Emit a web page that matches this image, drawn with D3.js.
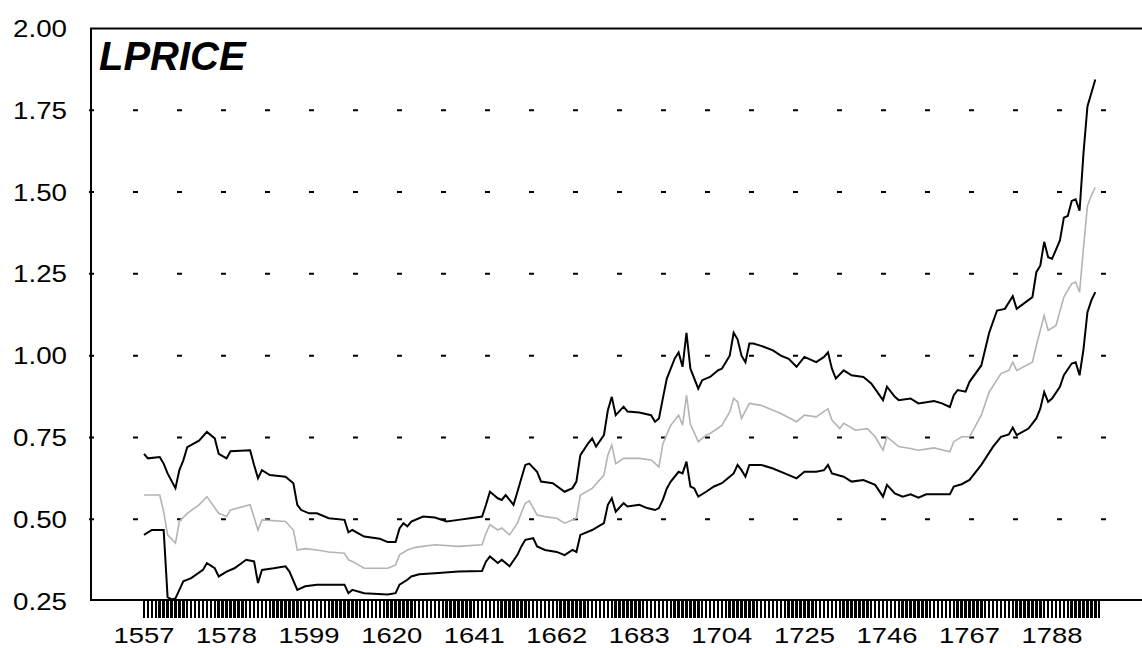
<!DOCTYPE html>
<html>
<head>
<meta charset="utf-8">
<script src="https://cdn.jsdelivr.net/npm/d3@7"></script>
<style>
  html, body { margin: 0; padding: 0; background: #fff; overflow: hidden; }
  text { font-family: "Liberation Sans", Arial, sans-serif; fill: #000; }
</style>
</head>
<body>
<div id="chart"></div>
<script>
// series: [year, value]
let upperBand = [
    [1557, 0.70], [1558, 0.686], [1561, 0.69], [1562, 0.67], [1563, 0.64], [1565, 0.595],
    [1566, 0.65], [1567, 0.68], [1568, 0.72], [1571, 0.74], [1573, 0.767], [1575, 0.747],
    [1576, 0.70], [1578, 0.686], [1579, 0.708], [1584, 0.711], [1585, 0.666], [1586, 0.625],
    [1587, 0.65], [1589, 0.635], [1593, 0.63], [1595, 0.61], [1596, 0.544], [1597, 0.528],
    [1599, 0.518], [1601, 0.518], [1604, 0.503], [1608, 0.498], [1609, 0.46], [1610, 0.467],
    [1613, 0.447], [1617, 0.44], [1619, 0.43], [1621, 0.43], [1622, 0.472], [1623, 0.488],
    [1624, 0.478], [1625, 0.493], [1628, 0.508], [1631, 0.505], [1634, 0.493], [1637, 0.498],
    [1640, 0.503], [1643, 0.508], [1644, 0.544], [1645, 0.584], [1647, 0.564], [1648, 0.559],
    [1649, 0.574], [1651, 0.544], [1652, 0.584], [1653, 0.625], [1654, 0.666], [1655, 0.67],
    [1657, 0.645], [1658, 0.615], [1661, 0.61], [1664, 0.584], [1666, 0.595], [1667, 0.615],
    [1668, 0.696], [1670, 0.732], [1671, 0.747], [1672, 0.722], [1674, 0.757], [1675, 0.833],
    [1676, 0.874], [1677, 0.818], [1679, 0.844], [1680, 0.829], [1683, 0.826], [1686, 0.818],
    [1687, 0.798], [1688, 0.808], [1689, 0.87], [1690, 0.93], [1692, 0.991], [1693, 1.01],
    [1694, 0.966], [1695, 1.07], [1696, 0.96], [1698, 0.899], [1699, 0.925], [1701, 0.935],
    [1703, 0.955], [1704, 0.96], [1706, 1.0], [1707, 1.07], [1708, 1.05], [1709, 1.0],
    [1710, 0.98], [1711, 1.037], [1712, 1.037], [1714, 1.03], [1717, 1.016], [1719, 1.0],
    [1721, 0.99], [1723, 0.966], [1725, 0.996], [1728, 0.98], [1730, 0.996], [1731, 1.01],
    [1732, 0.96], [1733, 0.93], [1735, 0.955], [1737, 0.94], [1740, 0.935], [1742, 0.915],
    [1745, 0.864], [1746, 0.905], [1748, 0.874], [1749, 0.864], [1752, 0.869], [1754, 0.854],
    [1758, 0.861], [1760, 0.854], [1762, 0.843], [1763, 0.879], [1764, 0.895], [1766, 0.89],
    [1767, 0.92], [1770, 0.97], [1772, 1.07], [1774, 1.138], [1776, 1.143], [1778, 1.182],
    [1779, 1.143], [1783, 1.179], [1784, 1.255], [1785, 1.275], [1786, 1.348], [1787, 1.301],
    [1788, 1.296], [1790, 1.352], [1791, 1.422], [1792, 1.427], [1793, 1.473], [1794, 1.478],
    [1795, 1.443], [1796, 1.62], [1797, 1.762], [1798, 1.803], [1799, 1.844]
];

let forecast = [
    [1557, 0.574], [1561, 0.574], [1562, 0.523], [1563, 0.452], [1565, 0.427], [1566, 0.493],
    [1568, 0.518], [1571, 0.544], [1573, 0.569], [1576, 0.518], [1578, 0.508], [1579, 0.528],
    [1584, 0.544], [1586, 0.467], [1587, 0.498], [1593, 0.493], [1595, 0.467], [1596, 0.406],
    [1598, 0.41], [1601, 0.406], [1604, 0.40], [1608, 0.396], [1609, 0.376], [1610, 0.371],
    [1613, 0.35], [1619, 0.35], [1621, 0.36], [1622, 0.391], [1624, 0.406], [1626, 0.414],
    [1631, 0.422], [1637, 0.417], [1643, 0.422], [1644, 0.457], [1645, 0.483], [1647, 0.467],
    [1648, 0.473], [1650, 0.452], [1652, 0.488], [1653, 0.52], [1654, 0.549], [1655, 0.556],
    [1657, 0.513], [1659, 0.508], [1662, 0.503], [1664, 0.488], [1667, 0.503], [1668, 0.574],
    [1671, 0.594], [1674, 0.635], [1675, 0.696], [1676, 0.727], [1677, 0.67], [1679, 0.686],
    [1683, 0.686], [1686, 0.681], [1688, 0.66], [1689, 0.73], [1690, 0.76], [1691, 0.787],
    [1693, 0.818], [1694, 0.787], [1695, 0.879], [1696, 0.79], [1698, 0.737], [1700, 0.757],
    [1701, 0.762], [1704, 0.787], [1706, 0.828], [1707, 0.869], [1708, 0.859], [1709, 0.808],
    [1711, 0.854], [1714, 0.848], [1719, 0.823], [1723, 0.798], [1725, 0.818], [1728, 0.813],
    [1731, 0.838], [1732, 0.803], [1734, 0.777], [1735, 0.793], [1738, 0.772], [1741, 0.777],
    [1743, 0.752], [1745, 0.711], [1746, 0.752], [1748, 0.732], [1749, 0.722], [1752, 0.716],
    [1754, 0.711], [1758, 0.718], [1762, 0.706], [1763, 0.737], [1765, 0.752], [1767, 0.752],
    [1770, 0.818], [1772, 0.889], [1775, 0.945], [1777, 0.955], [1778, 0.98], [1779, 0.955],
    [1783, 0.98], [1784, 1.031], [1786, 1.123], [1787, 1.077], [1789, 1.092], [1791, 1.179],
    [1793, 1.22], [1794, 1.225], [1795, 1.194], [1796, 1.33], [1797, 1.458], [1798, 1.49],
    [1799, 1.514]
];

let lowerBand = [
    [1557, 0.452], [1559, 0.467], [1562, 0.467], [1563, 0.262], [1564, 0.255], [1565, 0.258],
    [1566, 0.284], [1567, 0.31], [1569, 0.32], [1572, 0.345], [1573, 0.366], [1575, 0.35],
    [1576, 0.325], [1578, 0.34], [1580, 0.35], [1583, 0.376], [1585, 0.371], [1586, 0.305],
    [1587, 0.345], [1590, 0.35], [1593, 0.356], [1594, 0.34], [1596, 0.284], [1598, 0.295],
    [1601, 0.30], [1608, 0.30], [1609, 0.274], [1610, 0.284], [1613, 0.274], [1619, 0.27],
    [1621, 0.274], [1622, 0.30], [1624, 0.315], [1625, 0.325], [1627, 0.332], [1631, 0.335],
    [1637, 0.34], [1643, 0.342], [1644, 0.371], [1645, 0.386], [1647, 0.366], [1648, 0.376],
    [1650, 0.356], [1652, 0.391], [1653, 0.417], [1654, 0.437], [1656, 0.442], [1657, 0.417],
    [1659, 0.406], [1662, 0.40], [1664, 0.39], [1666, 0.406], [1667, 0.40], [1668, 0.452],
    [1671, 0.467], [1674, 0.488], [1675, 0.544], [1676, 0.564], [1677, 0.523], [1679, 0.549],
    [1680, 0.539], [1683, 0.544], [1685, 0.534], [1687, 0.528], [1688, 0.534], [1689, 0.56],
    [1690, 0.594], [1691, 0.615], [1693, 0.645], [1694, 0.64], [1695, 0.676], [1696, 0.60],
    [1697, 0.594], [1698, 0.569], [1700, 0.584], [1702, 0.60], [1704, 0.61], [1705, 0.62],
    [1707, 0.64], [1708, 0.666], [1709, 0.65], [1710, 0.63], [1711, 0.666], [1714, 0.666],
    [1717, 0.655], [1720, 0.64], [1723, 0.625], [1725, 0.645], [1728, 0.645], [1730, 0.65],
    [1731, 0.666], [1732, 0.64], [1735, 0.63], [1737, 0.615], [1740, 0.62], [1743, 0.605],
    [1745, 0.569], [1746, 0.605], [1748, 0.579], [1750, 0.569], [1752, 0.576], [1754, 0.566],
    [1756, 0.576], [1762, 0.576], [1763, 0.60], [1765, 0.607], [1767, 0.62], [1770, 0.666],
    [1773, 0.722], [1775, 0.752], [1777, 0.759], [1778, 0.78], [1779, 0.757], [1782, 0.777],
    [1784, 0.808], [1785, 0.838], [1786, 0.889], [1787, 0.859], [1788, 0.869], [1790, 0.905],
    [1791, 0.94], [1793, 0.976], [1794, 0.98], [1795, 0.94], [1796, 1.02], [1797, 1.133],
    [1798, 1.169], [1799, 1.194]
];

let yTickValues = [0.25, 0.50, 0.75, 1.00, 1.25, 1.50, 1.75, 2.00];
let gridValues = [0.50, 0.75, 1.00, 1.25, 1.50, 1.75];
let xLabelYears = [1557, 1578, 1599, 1620, 1641, 1662, 1683, 1704, 1725, 1746, 1767, 1788];
let firstTickYear = 1557, lastTickYear = 1800;
let seriesTitle = 'LPRICE';

let width = 1142,
    height = 648,
    frame = {left: 91, top: 28.5, bottom: 600, right: 1150};

let svg = d3.select('#chart').append('svg')
    .attr('width', width)
    .attr('height', height)
    .style('display', 'block');

// 1557 sits at x=144, 3.931 px per year
let xScale = d3.scaleLinear()
    .domain([1557, 1788])
    .range([144, 144 + 231 * 3.931]);

let yScale = d3.scaleLinear()
    .domain([0.25, 2.00])
    .range([601, 28.5]);

svg.append('defs').append('clipPath')
    .attr('id', 'plot-clip')
    .append('rect')
    .attr('x', frame.left)
    .attr('y', frame.top)
    .attr('width', frame.right - frame.left)
    .attr('height', frame.bottom - frame.top);

// dotted horizontal grid
svg.append('g')
    .attr('class', 'grid')
    .selectAll('line')
    .data(gridValues)
    .join('line')
    .attr('x1', 89)
    .attr('x2', width)
    .attr('y1', d => yScale(d))
    .attr('y2', d => yScale(d))
    .attr('stroke', '#000')
    .attr('stroke-width', 2)
    .attr('stroke-dasharray', '5,39');

// year tick bars under the axis, snapped to whole pixels
let tickYears = d3.range(firstTickYear, lastTickYear + 1);
let tickLeft = d => Math.round(xScale(d) - 1.25),
    tickRight = d => Math.round(xScale(d) + 1.25);

svg.append('g')
    .attr('class', 'x-ticks')
    .attr('shape-rendering', 'crispEdges')
    .selectAll('rect')
    .data(tickYears)
    .join('rect')
    .attr('x', tickLeft)
    .attr('y', frame.bottom)
    .attr('width', d => tickRight(d) - tickLeft(d))
    .attr('height', 18)
    .attr('fill', '#000');

svg.append('g')
    .attr('class', 'x-labels')
    .selectAll('text')
    .data(xLabelYears)
    .join('text')
    .attr('x', d => xScale(d))
    .attr('y', 643)
    .attr('text-anchor', 'middle')
    .attr('font-size', 22)
    .attr('textLength', 61)
    .attr('lengthAdjust', 'spacingAndGlyphs')
    .text(d => d);

svg.append('g')
    .attr('class', 'y-labels')
    .selectAll('text')
    .data(yTickValues)
    .join('text')
    .attr('x', 67)
    .attr('y', d => yScale(d) + 8.5)
    .attr('text-anchor', 'end')
    .attr('font-size', 23)
    .attr('textLength', 54)
    .attr('lengthAdjust', 'spacingAndGlyphs')
    .text(d => d3.format('.2f')(d));

let line = d3.line()
    .x(d => xScale(d[0]))
    .y(d => yScale(d[1]));

let lines_g = svg.append('g')
    .attr('clip-path', 'url(#plot-clip)');

lines_g.append('path')
    .datum(forecast)
    .attr('d', line)
    .attr('fill', 'none')
    .attr('stroke', '#b4b4b4')
    .attr('stroke-width', 1.6)
    .attr('stroke-linejoin', 'miter');

[upperBand, lowerBand].forEach(function (band) {
    lines_g.append('path')
        .datum(band)
        .attr('d', line)
        .attr('fill', 'none')
        .attr('stroke', '#000')
        .attr('stroke-width', 2)
        .attr('stroke-linejoin', 'miter');
});

// frame: left, top, bottom (right side runs off the page)
svg.append('path')
    .attr('d', `M${width + 5},${frame.top}H${frame.left}V${frame.bottom}H${width + 5}`)
    .attr('fill', 'none')
    .attr('stroke', '#000')
    .attr('stroke-width', 2);

svg.append('text')
    .attr('x', 99)
    .attr('y', 70)
    .attr('font-size', 40)
    .attr('font-weight', 'bold')
    .attr('font-style', 'italic')
    .text(seriesTitle);
</script>
</body>
</html>
